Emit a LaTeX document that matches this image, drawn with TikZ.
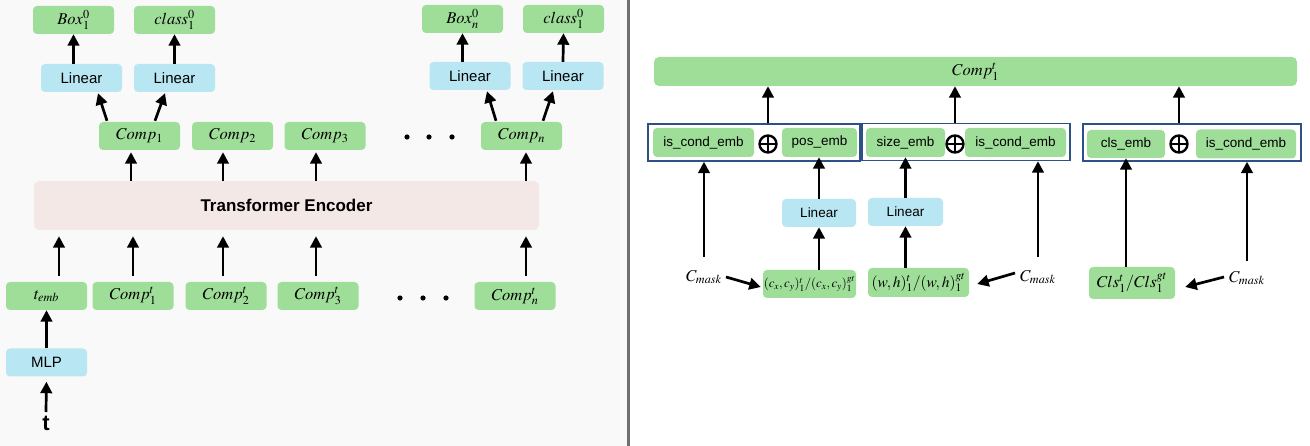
\documentclass[tikz,border=0pt]{standalone}
\usepackage{mathptmx}
\usepackage{fontspec}
\setmainfont{Liberation Serif}
\setsansfont{Liberation Sans}
\usetikzlibrary{arrows.meta,calc}
\definecolor{mygreen}{RGB}{158,222,152}
\definecolor{myblue}{RGB}{184,230,242}
\definecolor{mypink}{RGB}{244,232,231}
\definecolor{grpblue}{RGB}{45,80,135}
\definecolor{divgray}{RGB}{112,112,112}
\definecolor{leftbg}{RGB}{249,249,249}
\tikzset{
  gbox/.style={fill=mygreen, rounded corners=4pt, minimum width=81pt, minimum height=28pt, inner sep=0pt, font=\fontsize{16.5}{16.5}\selectfont},
  bbox/.style={fill=myblue, rounded corners=4pt, minimum width=81pt, minimum height=28pt, inner sep=0pt, font=\sffamily\fontsize{15}{15}\selectfont},
  ebox/.style={fill=mygreen, rounded corners=4pt, minimum height=29pt, inner sep=0pt, font=\sffamily\fontsize{13.5}{13.5}\selectfont},
  grp/.style={draw=grpblue, line width=1.4pt, minimum height=37pt, inner sep=0pt},
  oplus/.style={circle, draw, line width=2.4pt, minimum size=17pt, inner sep=0pt,
    path picture={\draw[line width=2.4pt] (path picture bounding box.north) -- (path picture bounding box.south)
      (path picture bounding box.west) -- (path picture bounding box.east);}},
  arr/.style={line width=2.7pt, -{Triangle[width=11.5pt,length=11.5pt]}},
  lbl/.style={inner sep=0pt, font=\fontsize{16.5}{16.5}\selectfont},
}
\begin{document}
\begin{tikzpicture}[x=1pt,y=-1pt]
\useasboundingbox (0,0) rectangle (1310,446);
\fill[leftbg] (0,0) rectangle (627,446);
\draw[divgray, line width=3pt] (628,0) -- (628,446);

% ---------- left panel ----------
\node[gbox] (box1) at (73.5,20) {$Box_1^0$};
\node[gbox] (cls1) at (174.5,20) {$class_1^0$};
\node[bbox] (lin1) at (81.5,78) {Linear};
\node[bbox] (lin2) at (174.5,78) {Linear};
\node[gbox] (boxn) at (462.5,19) {$Box_n^0$};
\node[gbox] (clsn) at (563.5,19) {$class_1^0$};
\node[bbox] (linn1) at (470,76) {Linear};
\node[bbox] (linn2) at (563,76) {Linear};

\node[gbox] (comp1) at (139.5,136) {$Comp_1$};
\node[gbox] (comp2) at (232.5,136) {$Comp_2$};
\node[gbox] (comp3) at (325,136) {$Comp_3$};
\node[gbox] (compn) at (521.5,136) {$Comp_n$};
\foreach \x in {407,429,452} \fill (\x,137) circle (2.6);

\node[fill=mypink, rounded corners=5pt, minimum width=505pt, minimum height=49pt, inner sep=0pt,
  font=\sffamily\bfseries\fontsize{17}{17}\selectfont] (enc) at (286.5,205.5) {Transformer Encoder};

\node[gbox] (temb) at (46.5,296) {$t_{emb}$};
\node[gbox] (c1t) at (133,296) {$Comp_1^t$};
\node[gbox] (c2t) at (226,296) {$Comp_2^t$};
\node[gbox] (c3t) at (318,296) {$Comp_3^t$};
\node[gbox] (cnt) at (515,296) {$Comp_n^t$};
\foreach \x in {400,423,446} \fill (\x,298) circle (2.6);

\node[bbox] (mlp) at (46.5,362.5) {MLP};
\node[anchor=north, inner sep=0pt, font=\sffamily\bfseries\fontsize{22}{22}\selectfont] (t) at (46,416) {t};

% left arrows
\draw[arr] (box1.south |- lin1.north) -- (box1.south);
\draw[arr] (lin2.north) -- (cls1.south);
\draw[arr] (boxn.south |- linn1.north) -- (boxn.south);
\draw[arr] (linn2.north) -- (clsn.south);
\draw[arr] ([xshift=-32.5pt,yshift=1pt]comp1.north) -- ([xshift=16.5pt,yshift=-1pt]lin1.south);
\draw[arr] ([xshift=15.5pt,yshift=1pt]comp1.north) -- ([xshift=-9.5pt,yshift=-1pt]lin2.south);
\draw[arr] ([xshift=-25.5pt,yshift=1pt]compn.north) -- ([xshift=17pt,yshift=-1pt]linn1.south);
\draw[arr] ([xshift=21.5pt,yshift=1pt]compn.north) -- ([xshift=-10pt,yshift=-1pt]linn2.south);

\draw[arr, shorten >=2pt] ([xshift=-8.5pt]comp1.south |- enc.north) -- ([xshift=-8.5pt]comp1.south);
\draw[arr, shorten >=2pt] ([xshift=-9.5pt]comp2.south |- enc.north) -- ([xshift=-9.5pt]comp2.south);
\draw[arr, shorten >=2pt] ([xshift=-9pt]comp3.south |- enc.north) -- ([xshift=-9pt]comp3.south);
\draw[arr, shorten >=2pt] ([xshift=4.5pt]compn.south |- enc.north) -- ([xshift=4.5pt]compn.south);

\draw[arr, shorten <=6pt, shorten >=6pt] ([xshift=12.5pt]temb.north) -- ([xshift=12.5pt]temb.north |- enc.south);
\draw[arr, shorten <=6pt, shorten >=6pt] (c1t.north) -- (c1t.north |- enc.south);
\draw[arr, shorten <=6pt, shorten >=6pt] ([xshift=-3pt]c2t.north) -- ([xshift=-3pt]c2t.north |- enc.south);
\draw[arr, shorten <=6pt, shorten >=6pt] ([xshift=-2pt]c3t.north) -- ([xshift=-2pt]c3t.north |- enc.south);
\draw[arr, shorten <=6pt, shorten >=6pt] ([xshift=11pt]cnt.north) -- ([xshift=11pt]cnt.north |- enc.south);

\draw[arr] (mlp.north) -- (temb.south);
\draw[arr, shorten >=5pt] ([yshift=4pt]t.north) -- (mlp.south);

% ---------- right panel ----------
\node[fill=mygreen, rounded corners=5pt, minimum width=643pt, minimum height=29pt, inner sep=0pt,
  font=\fontsize{16.5}{16.5}\selectfont] (bar) at (975.5,71.5) {$Comp_1^t$};

\node[grp, minimum width=212pt] (g1) at (754,142.5) {};
\node[grp, minimum width=208pt] (g2) at (966,142) {};
\node[grp, minimum width=218pt] (g3) at (1192,142.5) {};

\node[ebox, minimum width=101pt] (ice1) at (703.5,142.5) {is\_cond\_emb};
\node[oplus] (plus1) at (768,144) {};
\node[ebox, minimum width=75pt] (pos) at (819.5,142.5) {pos\_emb};

\node[ebox, minimum width=79pt] (size) at (905.5,142.5) {size\_emb};
\node[oplus] (plus2) at (955,144) {};
\node[ebox, minimum width=101pt] (ice2) at (1015.5,142.5) {is\_cond\_emb};

\node[ebox, minimum width=78pt, minimum height=28pt] (cls) at (1126,144) {cls\_emb};
\node[oplus] (plus3) at (1179,144) {};
\node[ebox, minimum width=100pt] (ice3) at (1246,144) {is\_cond\_emb};

\node[bbox, minimum width=74pt, font=\sffamily\fontsize{13.5}{13.5}\selectfont] (lin3) at (819,213) {Linear};
\node[bbox, minimum width=75pt, font=\sffamily\fontsize{13.5}{13.5}\selectfont] (lin4) at (905.5,212) {Linear};

\node[gbox, minimum width=93pt, font=\fontsize{12.8}{12.8}\selectfont] (cxy) at (809.5,284) {$(c_x,c_y)_1^t/(c_x,c_y)_1^{gt}$};
\node[gbox, minimum width=101pt, minimum height=29pt, font=\fontsize{15.5}{15.5}\selectfont] (wh) at (918.5,282.5) {$(w,h)_1^t/(w,h)_1^{gt}$};
\node[gbox, minimum width=86pt, minimum height=32pt] (clsbox) at (1132,283) {$Cls_1^t/Cls_1^{gt}$};

\node[lbl] (cm1) at (704,277) {$C_{mask}$};
\node[lbl] (cm2) at (1038,277) {$C_{mask}$};
\node[lbl] (cm3) at (1247,278) {$C_{mask}$};

% right arrows
\draw[arr] (plus1.north |- g1.north) -- (plus1.north |- bar.south);
\draw[arr] (plus2.north |- g2.north) -- (plus2.north |- bar.south);
\draw[arr] (plus3.north |- g3.north) -- (plus3.north |- bar.south);

\draw[arr] ([yshift=13pt]cm1.north) -- (cm1.north |- g1.south);
\draw[arr] ([xshift=4pt,yshift=0pt]cm1.east) -- ([xshift=-2pt,yshift=-3pt]cxy.west);
\draw[arr] (lin3.south |- cxy.north) -- (lin3.south);
\draw[arr] (lin3.north) -- (lin3.north |- pos.south);

\draw[arr] (lin4.south |- wh.north) -- (lin4.south);
\draw[arr] (lin4.north) -- (lin4.north |- size.south);
\draw[arr] ([xshift=-5pt,yshift=4pt]cm2.west) -- ([xshift=8pt,yshift=-1.5pt]wh.east);
\draw[arr] ([yshift=13pt]cm2.north) -- (cm2.north |- g2.south);

\draw[arr] (cls.south |- clsbox.north) -- (cls.south);
\draw[arr] ([xshift=-5pt,yshift=1pt]cm3.west) -- ([xshift=10pt,yshift=-4pt]clsbox.east);
\draw[arr] ([yshift=10pt]cm3.north) -- (cm3.north |- g3.south);
\end{tikzpicture}
\end{document}
